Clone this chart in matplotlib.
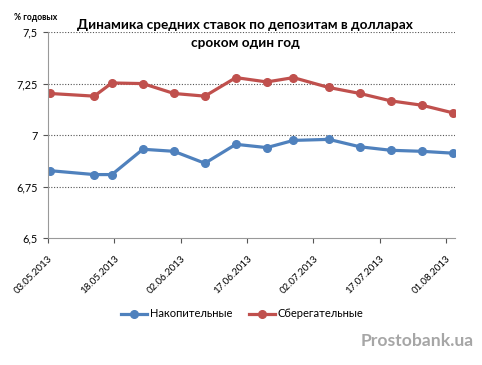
import datetime as dt
import matplotlib
matplotlib.use("Agg")
import matplotlib.pyplot as plt
import matplotlib.dates as mdates
from matplotlib.ticker import FuncFormatter

dates = ["03.05.2013", "13.05.2013", "17.05.2013", "24.05.2013", "31.05.2013",
         "07.06.2013", "14.06.2013", "21.06.2013", "27.06.2013", "05.07.2013",
         "12.07.2013", "19.07.2013", "26.07.2013", "02.08.2013"]
nakop = [6.827, 6.808, 6.808, 6.931, 6.921, 6.863, 6.955, 6.939, 6.974, 6.979,
         6.943, 6.926, 6.921, 6.912]
sberg = [7.202, 7.189, 7.253, 7.250, 7.202, 7.189, 7.279, 7.258, 7.279, 7.231,
         7.202, 7.166, 7.145, 7.108]
tick_dates = ["03.05.2013", "18.05.2013", "02.06.2013", "17.06.2013",
              "02.07.2013", "17.07.2013", "01.08.2013"]
yticks = [6.5, 6.75, 7, 7.25, 7.5]

plt.rcParams['font.family'] = ['Lato', 'DejaVu Sans']

def d(s):
    return dt.datetime.strptime(s, "%d.%m.%Y")

# excel puts points in the middle of the day
x = [d(s) + dt.timedelta(hours=12) for s in dates]

fig = plt.figure(figsize=(4.82, 3.65), dpi=100)
ax = fig.add_axes([0.099, 0.348, 0.845, 0.564])

blue = '#4F81BD'
red = '#C0504D'
ax.plot(x, nakop, color=blue, lw=2.3, marker='o', ms=5.5, label='Накопительные')
ax.plot(x, sberg, color=red, lw=2.3, marker='o', ms=5.5, label='Сберегательные')

ax.set_xlim(d("03.05.2013"), d("03.08.2013"))
ax.set_ylim(6.5, 7.5)
ax.set_yticks(yticks)
ax.yaxis.set_major_formatter(FuncFormatter(lambda v, p: ('%g' % v).replace('.', ',')))
ax.set_xticks([d(s) for s in tick_dates])
ax.xaxis.set_major_formatter(mdates.DateFormatter('%d.%m.%Y'))
plt.setp(ax.get_xticklabels(), rotation=45, ha='right', rotation_mode='anchor')
ax.tick_params(labelsize=7.8, colors='#555555', labelcolor='black', length=3.5, width=0.8)
ax.tick_params(axis='x', labelsize=7, pad=8)

for yv in yticks[1:]:
    ax.axhline(yv, color='#555555', lw=0.8, ls=(0, (1, 1.5)), zorder=0)

for s in ['top', 'right']:
    ax.spines[s].set_visible(False)
for s in ['left', 'bottom']:
    ax.spines[s].set_color('#999999')

fig.text(0.509, 0.932, 'Динамика средних ставок по депозитам в долларах',
         ha='center', va='center', fontsize=9.8, fontweight='bold')
fig.text(0.509, 0.882, 'сроком один год',
         ha='center', va='center', fontsize=9.8, fontweight='bold')
fig.text(0.03, 0.953, '% годовых', fontsize=6.2, fontweight='bold', va='center')

fig.legend(loc='center', bbox_to_anchor=(0.503, 0.14), ncol=2, frameon=False,
           fontsize=8, handlelength=2.3, columnspacing=1.5, handletextpad=0.3)

fig.text(0.982, 0.065, 'Prostobank.ua', ha='right', va='center', fontsize=12.6,
         fontweight='bold', color='#A6A6A6')

fig.savefig('out.png', dpi=100)
